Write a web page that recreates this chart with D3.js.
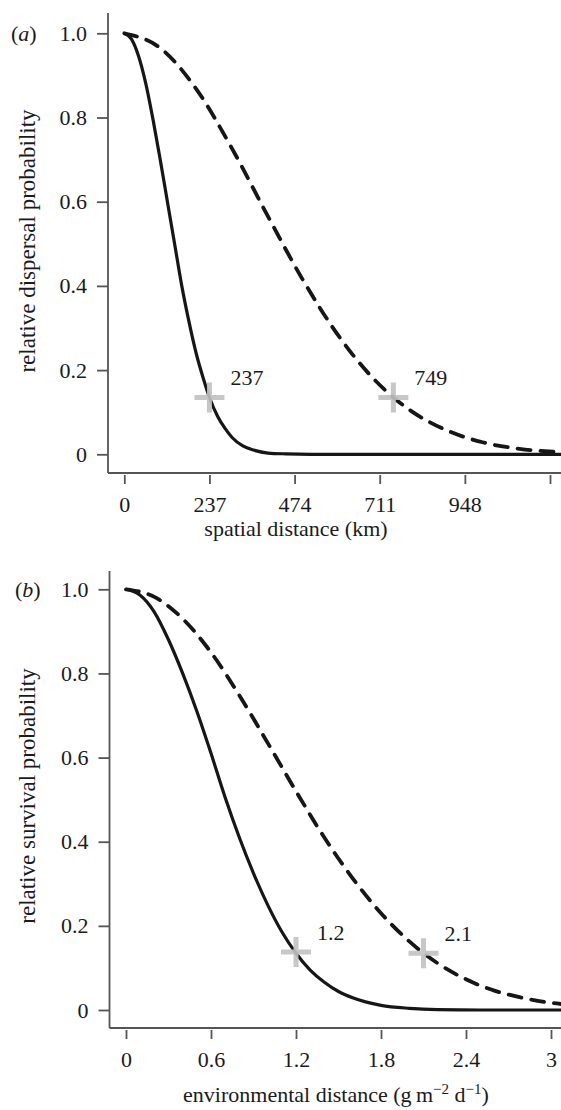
<!DOCTYPE html>
<html>
<head>
<meta charset="utf-8">
<script src="https://cdn.jsdelivr.net/npm/d3@7"></script>
<style>
  body { margin: 0; background: #fff; }
  svg { display: block; }
  text { font-family: "Liberation Serif", "DejaVu Serif", serif; fill: #1a1a1a; }
</style>
</head>
<body>
<svg id="chart" width="561" height="1110"></svg>
<script>
// panel (a): spatial distance (km) vs relative dispersal probability
const distKmSolid = [0, 20, 40, 60, 80, 100, 120, 140, 160, 180, 200, 220, 237, 260, 280, 300, 330, 360, 400, 450, 520, 700, 900, 1100, 1216];
const dispSolid   = [1.0, 0.986, 0.945, 0.88, 0.795, 0.70, 0.60, 0.50, 0.40, 0.315, 0.24, 0.18, 0.135, 0.09, 0.062, 0.04, 0.02, 0.01, 0.003, 0.001, 0, 0, 0, 0, 0];
const distKmDash  = [0, 100, 200, 300, 400, 500, 600, 700, 749, 800, 900, 1000, 1100, 1216];
const dispDash    = [1.0, 0.965, 0.868, 0.726, 0.565, 0.41, 0.277, 0.174, 0.135, 0.102, 0.056, 0.028, 0.013, 0.005];
const kmTicks = [0, 237, 474, 711, 948, 1185];
const kmTickLabels = ["0", "237", "474", "711", "948", ""];
const crossKm = [237, 749];
const crossKmP = [0.135, 0.135];
const crossKmLabels = ["237", "749"];

// panel (b): environmental distance vs relative survival probability
const envSolid  = [0, 0.1, 0.2, 0.3, 0.4, 0.5, 0.6, 0.7, 0.8, 0.9, 1.0, 1.1, 1.2, 1.3, 1.4, 1.5, 1.6, 1.8, 2.0, 2.2, 2.5, 2.8, 3.08];
const survSolid = [1.0, 0.986, 0.946, 0.88, 0.80, 0.71, 0.61, 0.505, 0.41, 0.325, 0.25, 0.186, 0.135, 0.095, 0.066, 0.044, 0.029, 0.011, 0.004, 0.001, 0, 0, 0];
const envDash   = [0, 0.2, 0.4, 0.6, 0.8, 1.0, 1.2, 1.4, 1.6, 1.8, 2.0, 2.1, 2.2, 2.4, 2.6, 2.8, 3.0, 3.08];
const survDash  = [1.0, 0.982, 0.93, 0.85, 0.748, 0.635, 0.52, 0.41, 0.313, 0.23, 0.163, 0.135, 0.111, 0.073, 0.046, 0.029, 0.017, 0.014];
const envTicks = [0, 0.6, 1.2, 1.8, 2.4, 3];
const envTickLabels = ["0", "0.6", "1.2", "1.8", "2.4", "3"];
const crossEnv = [1.2, 2.1];
const crossEnvP = [0.138, 0.135];
const crossEnvLabels = ["1.2", "2.1"];

const probTicks = [0, 0.2, 0.4, 0.6, 0.8, 1.0];
const probTickLabels = ["0", "0.2", "0.4", "0.6", "0.8", "1.0"];

const svg = d3.select("#chart");
const axisColor = "#555";
const lineColor = "#161616";
const crossColor = "#c2c2c2";

function drawPanel(cfg) {
  const g = svg.append("g");
  const x = d3.scaleLinear().domain(cfg.xDomain).range(cfg.xRange);
  const y = d3.scaleLinear().domain([0, 1]).range(cfg.yRange);

  // L-shaped frame
  g.append("line")
    .attr("x1", cfg.frameX).attr("x2", cfg.frameX)
    .attr("y1", cfg.frameTop).attr("y2", cfg.frameBottom)
    .attr("stroke", axisColor).attr("stroke-width", 1.8);
  g.append("line")
    .attr("x1", cfg.frameX).attr("x2", 561)
    .attr("y1", cfg.frameBottom).attr("y2", cfg.frameBottom)
    .attr("stroke", axisColor).attr("stroke-width", 1.8);

  // y axis ticks
  const yAxis = g.append("g")
    .attr("transform", `translate(${cfg.frameX},0)`)
    .call(d3.axisLeft(y).tickValues(probTicks)
      .tickFormat((d, i) => probTickLabels[i])
      .tickSize(11).tickPadding(10).tickSizeOuter(0));
  yAxis.select(".domain").remove();

  // x axis ticks (hang below the frame)
  const xAxis = g.append("g")
    .attr("transform", `translate(0,${cfg.frameBottom + 2})`)
    .call(d3.axisBottom(x).tickValues(cfg.xTicks)
      .tickFormat((d, i) => cfg.xTickLabels[i])
      .tickSize(9).tickPadding(12).tickSizeOuter(0));
  xAxis.select(".domain").remove();

  g.selectAll(".tick line").attr("stroke", axisColor).attr("stroke-width", 1.8);
  g.selectAll(".tick text")
    .attr("fill", "#1a1a1a")
    .style("font-family", '"Liberation Serif", serif')
    .style("font-size", "22px");

  const line = d3.line()
    .x(d => x(d[0]))
    .y(d => y(d[1]))
    .curve(d3.curveMonotoneX);

  const clipId = "clip" + cfg.id;
  g.append("clipPath").attr("id", clipId)
    .append("rect")
    .attr("x", cfg.frameX + 1).attr("y", cfg.frameTop)
    .attr("width", 561 - cfg.frameX).attr("height", cfg.frameBottom - cfg.frameTop - 2);

  g.append("path")
    .datum(d3.zip(cfg.dashX, cfg.dashY))
    .attr("clip-path", `url(#${clipId})`)
    .attr("fill", "none")
    .attr("stroke", lineColor)
    .attr("stroke-width", 3.8)
    .attr("stroke-dasharray", "13,10")
    .attr("stroke-linecap", "round")
    .attr("d", line);

  g.append("path")
    .datum(d3.zip(cfg.solidX, cfg.solidY))
    .attr("clip-path", `url(#${clipId})`)
    .attr("fill", "none")
    .attr("stroke", lineColor)
    .attr("stroke-width", 3.2)
    .attr("d", line);

  // grey crosses marking the threshold distances
  const crosses = g.selectAll(".cross")
    .data(d3.range(cfg.crossX.length))
    .enter().append("g")
    .attr("class", "cross")
    .attr("transform", i => `translate(${x(cfg.crossX[i])},${y(cfg.crossY[i])})`);
  crosses.append("path")
    .attr("d", "M-15,0H15M0,-15V15")
    .attr("stroke", crossColor)
    .attr("stroke-width", 5)
    .attr("opacity", 0.9);
  crosses.append("text")
    .attr("x", 21)
    .attr("y", -12)
    .style("font-size", "22px")
    .text(i => cfg.crossLabels[i]);

  // panel letter
  const lab = g.append("text")
    .attr("x", cfg.letterX)
    .attr("y", y(1) + 8)
    .style("font-size", "22px");
  lab.append("tspan").text("(");
  lab.append("tspan").style("font-style", "italic").text(cfg.letter);
  lab.append("tspan").text(")");

  // y axis title
  g.append("text")
    .attr("transform", `translate(35,${cfg.yTitleY}) rotate(-90)`)
    .attr("text-anchor", "middle")
    .style("font-size", "23px")
    .text(cfg.yTitle);

  return g;
}

drawPanel({
  id: "a", letter: "a", letterX: 11,
  xDomain: [0, 1185], xRange: [124.3, 550],
  yRange: [454.3, 33.3],
  frameX: 108, frameTop: 13, frameBottom: 473,
  xTicks: kmTicks, xTickLabels: kmTickLabels,
  solidX: distKmSolid, solidY: dispSolid,
  dashX: distKmDash, dashY: dispDash,
  crossX: crossKm, crossY: crossKmP, crossLabels: crossKmLabels,
  yTitle: "relative dispersal probability", yTitleY: 241
});

svg.append("text")
  .attr("x", 296).attr("y", 536)
  .attr("text-anchor", "middle")
  .style("font-size", "22px")
  .text("spatial distance (km)");

drawPanel({
  id: "b", letter: "b", letterX: 15,
  xDomain: [0, 3], xRange: [126, 551],
  yRange: [1010, 589.3],
  frameX: 109.5, frameTop: 571, frameBottom: 1028,
  xTicks: envTicks, xTickLabels: envTickLabels,
  solidX: envSolid, solidY: survSolid,
  dashX: envDash, dashY: survDash,
  crossX: crossEnv, crossY: crossEnvP, crossLabels: crossEnvLabels,
  yTitle: "relative survival probability", yTitleY: 796
});

const xt = svg.append("text")
  .attr("x", 336).attr("y", 1102)
  .attr("text-anchor", "middle")
  .style("font-size", "22px");
xt.append("tspan").text("environmental distance (g\u2009m");
xt.append("tspan").attr("dy", -8).style("font-size", "15px").text("\u22122");
xt.append("tspan").attr("dy", 8).text(" d");
xt.append("tspan").attr("dy", -8).style("font-size", "15px").text("\u22121");
xt.append("tspan").attr("dy", 8).text(")");
</script>
</body>
</html>
